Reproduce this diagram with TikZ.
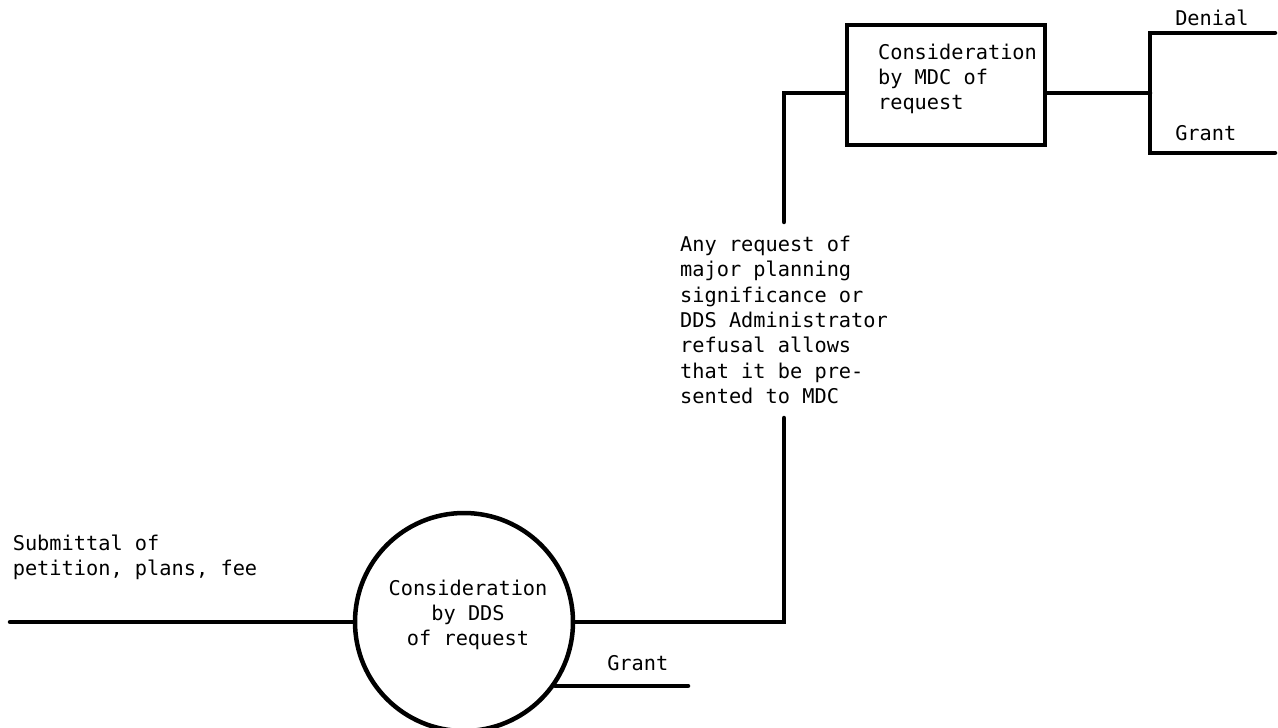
\documentclass[tikz,border=0pt]{standalone}
\usepackage{fontspec}
\newfontfamily\typefont{DejaVu Sans Mono}
\usetikzlibrary{positioning, calc}

\begin{document}
\begin{tikzpicture}[x=1pt,y=-1pt,line width=4.5pt,line cap=round,
  txt/.style={inner sep=0pt,font=\typefont\fontsize{20.3}{25.3}\selectfont},
  block/.style={rectangle,draw,minimum width=198pt,minimum height=120pt},
  ring/.style={circle,draw,minimum size=218pt}]
\useasboundingbox (0,0) rectangle (1278,728);
\node (dds) [ring] at (464,622) {};
\node (ddstext) [txt,align=center] at (468,615) {Consideration\\by DDS\\of request};
\node (mdc) [block] at (946,85) {};
\node (mdctext) [txt,align=left] at (957.5,79) {Consideration\\by MDC of\\request};
\node (note) [txt,align=left,inner ysep=12pt] at (784,320) {Any request of\\major planning\\significance or\\DDS Administrator\\refusal allows\\that it be pre-\\sented to MDC};
\node (submit) [txt,align=left] at (135,557) {Submittal of\\petition, plans, fee};
\node (denial) [txt,anchor=base west] at (1173,25) {Denial};
\node (grant1) [txt,anchor=base west] at (1173,140) {Grant};
\node (grant2) [txt,anchor=base west] at (605,670) {Grant};
\coordinate (start) at (10,622);
\coordinate (fork) at (1150,93);
\coordinate (deny) at (1275,33);
\coordinate (allow) at (1275,153);
\coordinate (grantend) at (688,686);
  \begin{scope}
    \draw (start) -- (dds.west);
    \draw (dds.east) -| (note.south);
    \draw (note.north) |- ([yshift=-8pt]mdc.west);
    \draw ([yshift=-8pt]mdc.east) -- (fork);
    \draw (deny) -| (fork) |- (allow);
    \draw (dds.-35) -- (dds.-35 -| grantend);
  \end{scope}
\end{tikzpicture}
\end{document}
